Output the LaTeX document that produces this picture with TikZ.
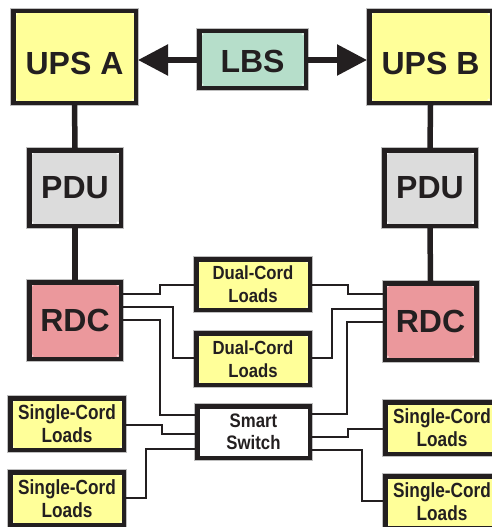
\documentclass[tikz,border=0pt]{standalone}
\usepackage{fontspec}
\setmainfont{Liberation Sans}
\newfontfamily\condf{Liberation Sans}[FakeStretch=0.84]
\newfontfamily\semif{Liberation Sans}[FakeStretch=0.88]
\newfontfamily\smartf{Liberation Sans}[FakeStretch=0.86]
\usetikzlibrary{arrows.meta}
\definecolor{ink}{HTML}{231F20}
\definecolor{upsY}{HTML}{FFFF99}
\definecolor{lbsG}{HTML}{B6DECA}
\definecolor{pduG}{HTML}{DCDCDC}
\definecolor{rdcP}{HTML}{EB989C}
\begin{document}
\begin{tikzpicture}[x=1pt,y=-1pt,
  box/.style={draw=ink, line width=4.5pt, inner sep=0pt, text=ink, align=center,
    preaction={draw=gray!50, line width=6.5pt}},
  dots/.style={path picture={\fill[#1]
      ([shift={(3,3)}]path picture bounding box.north west) circle (1.3)
      ([shift={(-3,3)}]path picture bounding box.north east) circle (1.3)
      ([shift={(3,-3)}]path picture bounding box.south west) circle (1.3)
      ([shift={(-3,-3)}]path picture bounding box.south east) circle (1.3);}},
  bigtext/.style={font=\fontsize{32}{36}\selectfont\bfseries},
  dualtext/.style={font=\semif\fontsize{19}{23}\selectfont\bfseries},
  singletext/.style={font=\condf\fontsize{20.5}{23}\selectfont\bfseries},
  smarttext/.style={font=\smartf\fontsize{19.5}{22}\selectfont\bfseries},
  link/.style={draw=ink, line width=5.5pt},
  wire/.style={draw=ink, line width=1.6pt},
  tip/.style={-{Triangle[length=30pt,width=30pt]}}
]
\useasboundingbox (0,0) rectangle (491,527);

% top row
\node[box, bigtext, fill=upsY, dots=white!60!upsY, minimum width=122.5pt, minimum height=91.5pt] (upsA) at (74.5,57) {\raisebox{-6pt}[\height][\depth]{UPS A}};
\node[box, bigtext, fill=upsY, dots=white!60!upsY, minimum width=122.5pt, minimum height=91.5pt] (upsB) at (430.5,57) {\raisebox{-6pt}[\height][\depth]{UPS B}};
\node[box, bigtext, fill=lbsG, dots=white!60!lbsG, minimum width=106.5pt, minimum height=56.5pt] (lbs) at (252.5,59.5) {\raisebox{-2pt}[\height][\depth]{LBS}};

% PDUs
\node[box, bigtext, fill=pduG, dots=white, minimum width=91.5pt, minimum height=75.5pt] (pduA) at (75,188) {PDU};
\node[box, bigtext, fill=pduG, dots=white, minimum width=91.5pt, minimum height=75.5pt] (pduB) at (430,188) {PDU};

% RDCs
\node[box, bigtext, fill=rdcP, dots=white!50!rdcP, minimum width=91.5pt, minimum height=76.5pt] (rdcA) at (75,320.5) {RDC};
\node[box, bigtext, fill=rdcP, dots=white!50!rdcP, minimum width=91.5pt, minimum height=76.5pt] (rdcB) at (430.5,321.5) {RDC};

% loads
\node[box, dualtext, fill=upsY, dots=white!60!upsY, minimum width=113.5pt, minimum height=50.5pt] (dual1) at (253,284.5) {Dual-Cord\\Loads};
\node[box, dualtext, fill=upsY, dots=white!60!upsY, minimum width=113.5pt, minimum height=51.5pt] (dual2) at (253,359) {Dual-Cord\\Loads};
\node[box, smarttext, fill=white, dots=white, minimum width=112.5pt, minimum height=51.5pt] (smart) at (253.5,432) {Smart\\Switch};

\node[box, singletext, fill=upsY, dots=white!60!upsY, minimum width=113.5pt, minimum height=51.5pt] (sgl1) at (67,424) {Single-Cord\\Loads};
\node[box, singletext, fill=upsY, dots=white!60!upsY, minimum width=113.5pt, minimum height=52.5pt] (sgl2) at (67,498.5) {Single-Cord\\Loads};
\node[box, singletext, fill=upsY, dots=white!60!upsY, minimum width=113.5pt, minimum height=51.5pt] (sgl3) at (442,428) {Single-Cord\\Loads};
\node[box, singletext, fill=upsY, dots=white!60!upsY, minimum width=113.5pt, minimum height=51.5pt] (sgl4) at (442,502) {Single-Cord\\Loads};

% thick links
\draw[link, tip] (lbs.west |- 0,60) -- (upsA.east |- 0,60);
\draw[link, tip] (lbs.east |- 0,60) -- (upsB.west |- 0,60);
\draw[link] (upsA.south) -- (pduA.north);
\draw[link] (pduA.south) -- (rdcA.north);
\draw[link] (upsB.south) -- (pduB.north);
\draw[link] (pduB.south) -- (rdcB.north);

% wires, left RDC
\draw[wire] (rdcA.east |- 0,294) -- (160,294) -- (160,285) -- (dual1.west |- 0,285);
\draw[wire] (rdcA.east |- 0,307) -- (173,307) -- (173,358) -- (dual2.west |- 0,358);
\draw[wire] (rdcA.east |- 0,320) -- (160,320) -- (160,415) -- (smart.west |- 0,415);
% wires, right RDC
\draw[wire] (dual1.east |- 0,285) -- (348,285) -- (348,294) -- (rdcB.west |- 0,294);
\draw[wire] (dual2.east |- 0,358) -- (332,358) -- (332,309) -- (rdcB.west |- 0,309);
\draw[wire] (rdcB.west |- 0,322) -- (347,322) -- (347,414) -- (smart.east |- 0,414);
% wires, smart switch
\draw[wire] (sgl1.east |- 0,425) -- (162,425) -- (162,434) -- (smart.west |- 0,434);
\draw[wire] (sgl2.east |- 0,498) -- (146,498) -- (146,449) -- (smart.west |- 0,449);
\draw[wire] (smart.east |- 0,437) -- (348,437) -- (348,429) -- (sgl3.west |- 0,429);
\draw[wire] (smart.east |- 0,450) -- (362,450) -- (362,501) -- (sgl4.west |- 0,501);
\end{tikzpicture}
\end{document}
